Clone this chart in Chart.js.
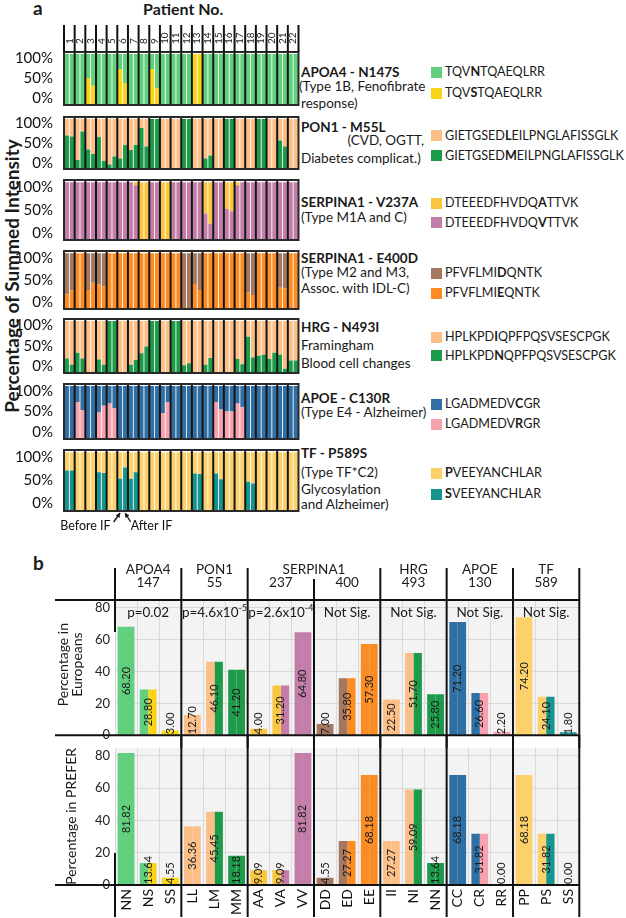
<!DOCTYPE html>
<html>
<head>
<meta charset="utf-8">
<script src="https://cdn.jsdelivr.net/npm/chart.js@4.4.1/dist/chart.umd.min.js"></script>
<style>
  body { margin: 0; width: 626px; height: 918px; position: relative; overflow: hidden; background: #fff; font-family: Lato, sans-serif; color: #1a1a1a; }
  canvas { position: absolute; left: 0; }
  .t { position: absolute; white-space: nowrap; font-size: 13.5px; line-height: 16px; }
  .b { font-weight: 700; }
  .sw { position: absolute; left: 431px; width: 11px; height: 11px; }
  .pep { position: absolute; left: 445px; white-space: nowrap; font-size: 12.6px; line-height: 16px; }
</style>
</head>
<body>
<div class="t b" style="left:33px;top:-3px;font-size:19px;line-height:22px">a</div>
<div class="t b" style="left:143px;top:1px;font-size:16px">Patient No.</div>
<div class="t b" style="left:-188px;top:264px;width:400px;text-align:center;font-size:19px;line-height:24px;transform:rotate(-90deg)">Percentage of Summed Intensity</div>
<div class="t b" style="left:33px;top:552px;font-size:19px;line-height:22px">b</div>

<div class="t b" style="left:301px;top:64px">APOA4 - N147S</div>
<div class="t" style="left:299px;top:78px">(Type 1B, Fenofibrate</div>
<div class="t" style="left:301px;top:95px">response)</div>
<div class="t b" style="left:301px;top:119px">PON1 - M55L</div>
<div class="t" style="right:202px;top:132px">(CVD, OGTT,</div>
<div class="t" style="left:301px;top:150px">Diabetes complicat.)</div>
<div class="t b" style="left:301px;top:194px">SERPINA1 - V237A</div>
<div class="t" style="left:301px;top:209px">(Type M1A and C)</div>
<div class="t b" style="left:301px;top:250px">SERPINA1 - E400D</div>
<div class="t" style="left:301px;top:264px">(Type M2 and M3,</div>
<div class="t" style="left:301px;top:280px">Assoc. with IDL-C)</div>
<div class="t b" style="left:301px;top:319px">HRG - N493I</div>
<div class="t" style="left:301px;top:337px">Framingham</div>
<div class="t" style="left:301px;top:355px">Blood cell changes</div>
<div class="t b" style="left:301px;top:390px">APOE - C130R</div>
<div class="t" style="left:301px;top:404px">(Type E4 - Alzheimer)</div>
<div class="t b" style="left:301px;top:445px">TF - P589S</div>
<div class="t" style="left:301px;top:464px">(Type TF*C2)</div>
<div class="t" style="left:301px;top:481px">Glycosylation</div>
<div class="t" style="left:301px;top:496px">and Alzheimer)</div>

<div class="sw" style="top:67px;background:#62cf7e"></div><div class="pep" style="top:64px">TQV<b>N</b>TQAEQLRR</div>
<div class="sw" style="top:88px;background:#fad416"></div><div class="pep" style="top:85px">TQV<b>S</b>TQAEQLRR</div>
<div class="sw" style="top:130px;background:#fdbf88"></div><div class="pep" style="top:128px">GIETGSED<b>L</b>EILPNGLAFISSGLK</div>
<div class="sw" style="top:150px;background:#1d9a4a"></div><div class="pep" style="top:148px">GIETGSED<b>M</b>EILPNGLAFISSGLK</div>
<div class="sw" style="top:198px;background:#f9c640"></div><div class="pep" style="top:195px">DTEEEDFHVDQ<b>A</b>TTVK</div>
<div class="sw" style="top:217px;background:#c27ea8"></div><div class="pep" style="top:215px">DTEEEDFHVDQ<b>V</b>TTVK</div>
<div class="sw" style="top:268px;background:#a47860"></div><div class="pep" style="top:265px">PFVFLMI<b>D</b>QNTK</div>
<div class="sw" style="top:288px;background:#fb8b23"></div><div class="pep" style="top:285px">PFVFLMI<b>E</b>QNTK</div>
<div class="sw" style="top:332px;background:#fdbf88"></div><div class="pep" style="top:329px">HPLKPD<b>I</b>QPFPQSVSESCPGK</div>
<div class="sw" style="top:350px;background:#1d9a4a"></div><div class="pep" style="top:348px">HPLKPD<b>N</b>QPFPQSVSESCPGK</div>
<div class="sw" style="top:399px;background:#2f6fa3"></div><div class="pep" style="top:396px">LGADMEDV<b>C</b>GR</div>
<div class="sw" style="top:419px;background:#f7a1ae"></div><div class="pep" style="top:416px">LGADMEDV<b>R</b>GR</div>
<div class="sw" style="top:468px;background:#fcd06a"></div><div class="pep" style="top:465px"><b>P</b>VEEYANCHLAR</div>
<div class="sw" style="top:489px;background:#15958e"></div><div class="pep" style="top:486px"><b>S</b>VEEYANCHLAR</div>

<script>
// ---------- panel a: share of each peptide form per patient (before IF, after IF), %
const patients = ['1','2','3','4','5','6','7','8','9','10','11','12','13','14','15','16','17','18','19','20','21','22'];

const apoa4S_before = [0,0,53,0,0,70,0,0,70,0,0,0,100,0,0,0,0,0,0,0,0,0];
const apoa4S_after  = [0,0,38,0,0,43,0,0,33,0,0,0,100,0,0,0,0,0,0,0,0,0];
const pon1M_before  = [67,18,39,64,9,21,38,82,100,0,0,100,0,21,0,100,0,0,100,0,57,0];
const pon1M_after   = [65,75,30,16,25,48,48,45,100,0,0,100,0,27,0,100,0,0,100,0,45,0];
const a1atV_before  = [100,100,100,100,100,100,100,0,100,0,100,100,100,46,100,54,95,100,100,100,100,100];
const a1atV_after   = [100,100,100,100,100,100,95,0,100,0,100,100,100,28,100,50,100,100,100,100,100,100];
const a1atE_before  = [26,100,34,44,100,100,100,100,100,100,100,0,45,100,100,100,100,29,100,100,38,100];
const a1atE_after   = [33,100,47,41,100,100,100,100,100,100,100,0,34,100,100,100,100,25,100,100,37,100];
const hrgN_before   = [28,39,0,26,100,0,16,38,100,0,100,15,0,16,0,0,27,70,33,27,35,24];
const hrgN_after    = [16,28,0,16,100,0,25,51,100,0,100,19,0,29,0,0,17,30,35,39,8,24];
const apoeR_before  = [0,70,0,50,67,0,0,0,0,49,0,0,0,0,70,52,67,0,0,0,0,0];
const apoeR_after   = [0,55,0,63,58,0,0,0,0,69,0,0,0,0,56,52,60,0,0,0,0,0];
const tfS_before    = [69,0,0,66,0,55,55,0,0,0,0,0,64,0,64,0,0,50,0,0,0,0];
const tfS_after     = [69,0,0,65,0,74,66,0,0,0,0,0,63,0,54,0,0,47,0,0,0,0];

// ---------- panel b: genotype frequencies, %
const genotypes = ['NN','NS','SS','LL','LM','MM','AA','VA','VV','DD','ED','EE','II','NI','NN','CC','CR','RR','PP','PS','SS'];
const pctEuropeans = [68.2,28.8,3.0,12.7,46.1,41.2,4.0,31.2,64.8,7.0,35.8,57.3,22.5,51.7,25.8,71.2,26.6,2.2,74.2,24.1,1.8];
const pctPrefer = [81.82,13.64,4.55,36.36,45.45,18.18,9.09,9.09,81.82,4.55,27.27,68.18,27.27,59.09,13.64,68.18,31.82,0,68.18,31.82,0];
const geneHeaders = [['APOA4',1],['PON1',1],['SERPINA1',2],['HRG',1],['APOE',1],['TF',1]];
const sitePositions = ['147','55','237','400','493','130','589'];
const pValues = [['p=0.02',''],['p=4.6x10','-5'],['p=2.6x10','-4'],['Not Sig.',''],['Not Sig.',''],['Not Sig.',''],['Not Sig.','']];

const C = {
  nLight: '#62cf7e', sYel: '#fad416', lOr: '#fdbf88', mGr: '#1d9a4a', aYel: '#f9c640', vPur: '#c27ea8',
  dBr: '#a47860', eOr: '#fb8b23', cBl: '#2f6fa3', rPk: '#f7a1ae', pYel: '#fcd06a', sTeal: '#15958e'
};
const leftColors  = [C.nLight,C.nLight,C.sYel, C.lOr,C.lOr,C.mGr, C.aYel,C.aYel,C.vPur, C.dBr,C.dBr,C.eOr, C.lOr,C.lOr,C.mGr, C.cBl,C.cBl,C.rPk, C.pYel,C.pYel,C.sTeal];
const rightColors = [C.nLight,C.sYel,C.sYel, C.lOr,C.mGr,C.mGr, C.aYel,C.vPur,C.vPur, C.dBr,C.eOr,C.eOr, C.lOr,C.mGr,C.mGr, C.cBl,C.rPk,C.rPk, C.pYel,C.sTeal,C.sTeal];

Chart.defaults.font.family = 'Lato, sans-serif';
Chart.defaults.color = '#1a1a1a';
Chart.defaults.animation = false;

function addCanvas(top, w, h) {
  const c = document.createElement('canvas');
  c.width = w; c.height = h;
  c.style.top = top + 'px';
  document.body.appendChild(c);
  return c;
}

function line(ctx, x1, y1, x2, y2) {
  ctx.beginPath(); ctx.moveTo(x1, y1); ctx.lineTo(x2, y2); ctx.stroke();
}

function arrow(ctx, x1, y1, x2, y2) {
  const ang = Math.atan2(y2 - y1, x2 - x1);
  line(ctx, x1, y1, x2, y2);
  ctx.beginPath();
  ctx.moveTo(x2, y2);
  ctx.lineTo(x2 - 5 * Math.cos(ang - 0.5), y2 - 5 * Math.sin(ang - 0.5));
  ctx.lineTo(x2 - 5 * Math.cos(ang + 0.5), y2 - 5 * Math.sin(ang + 0.5));
  ctx.closePath(); ctx.fill();
}

// black patient separators + frame
const stripFrame = {
  id: 'stripFrame',
  afterDatasetsDraw(chart) {
    const {ctx, chartArea: a, scales: {x}} = chart;
    ctx.save();
    ctx.strokeStyle = '#151515';
    ctx.lineWidth = 2;
    for (let i = 1; i < patients.length; i++) {
      const bx = (x.getPixelForValue(i - 1) + x.getPixelForValue(i)) / 2;
      line(ctx, bx, a.top, bx, a.bottom);
    }
    ctx.strokeStyle = '#2a2a2a';
    ctx.strokeRect(a.left, a.top, a.width, a.height);
    ctx.restore();
  }
};

const patientHeader = {
  id: 'patientHeader',
  afterDraw(chart) {
    const {ctx, chartArea: a, scales: {x}} = chart;
    const w = x.getPixelForValue(1) - x.getPixelForValue(0);
    ctx.save();
    ctx.strokeStyle = '#111';
    ctx.lineWidth = 2;
    for (let i = 0; i <= patients.length; i++) {
      const bx = x.getPixelForValue(0) - w / 2 + i * w;
      line(ctx, bx, 25, bx, a.top);
    }
    ctx.fillStyle = '#222';
    ctx.font = '10px Lato, sans-serif';
    ctx.textAlign = 'left';
    ctx.textBaseline = 'middle';
    patients.forEach((p, i) => {
      ctx.save();
      ctx.translate(x.getPixelForValue(i), 44);
      ctx.rotate(-Math.PI / 2);
      ctx.fillText(p, 0, 0);
      ctx.restore();
    });
    ctx.restore();
  }
};

const ifNote = {
  id: 'ifNote',
  afterDraw(chart) {
    const {ctx, chartArea: a, scales: {x}} = chart;
    const cx = x.getPixelForValue(5);
    ctx.save();
    ctx.strokeStyle = '#111'; ctx.fillStyle = '#111'; ctx.lineWidth = 1.3;
    arrow(ctx, cx - 9, a.bottom + 11, cx - 2.5, a.bottom + 2);
    arrow(ctx, cx + 8, a.bottom + 11, cx + 2.5, a.bottom + 2);
    ctx.font = '12.5px Lato, sans-serif';
    ctx.textBaseline = 'middle';
    ctx.textAlign = 'right';
    ctx.fillText('Before IF', cx - 12, a.bottom + 15);
    ctx.textAlign = 'left';
    ctx.fillText('After IF', cx + 8, a.bottom + 15);
    ctx.restore();
  }
};

const strips = [
  {low: apoa4S_before, lowAfter: apoa4S_after, cLow: C.sYel,  cHigh: C.nLight, box: [52, 109]},
  {low: pon1M_before,  lowAfter: pon1M_after,  cLow: C.mGr,   cHigh: C.lOr,    box: [113, 173]},
  {low: a1atV_before,  lowAfter: a1atV_after,  cLow: C.vPur,  cHigh: C.aYel,   box: [176, 244]},
  {low: a1atE_before,  lowAfter: a1atE_after,  cLow: C.eOr,   cHigh: C.dBr,    box: [247, 313]},
  {low: hrgN_before,   lowAfter: hrgN_after,   cLow: C.mGr,   cHigh: C.lOr,    box: [315, 377]},
  {low: apoeR_before,  lowAfter: apoeR_after,  cLow: C.rPk,   cHigh: C.cBl,    box: [380, 443]},
  {low: tfS_before,    lowAfter: tfS_after,    cLow: C.sTeal, cHigh: C.pYel,   box: [446, 511]}
];

strips.forEach((s, idx) => {
  const padTop = idx === 0 ? s.box[0] : 8;
  const padBottom = idx === strips.length - 1 ? 30 : 8;
  const h = s.box[1] - s.box[0] + padTop + padBottom;
  const extra = [stripFrame];
  if (idx === 0) extra.push(patientHeader);
  if (idx === strips.length - 1) extra.push(ifNote);
  new Chart(addCanvas(s.box[0] - padTop, 300, h), {
    type: 'bar',
    data: {
      labels: patients,
      datasets: [
        {data: s.low, backgroundColor: s.cLow, stack: 'before'},
        {data: s.low.map(v => 100 - v), backgroundColor: s.cHigh, stack: 'before'},
        {data: s.lowAfter, backgroundColor: s.cLow, stack: 'after'},
        {data: s.lowAfter.map(v => 100 - v), backgroundColor: s.cHigh, stack: 'after'}
      ]
    },
    options: {
      responsive: false,
      layout: {padding: {top: padTop, bottom: padBottom, left: 0, right: 1.5}},
      datasets: {bar: {barPercentage: 0.84, categoryPercentage: 1}},
      plugins: {legend: {display: false}, tooltip: {enabled: false}},
      scales: {
        x: {display: false, stacked: true},
        y: {display: false, stacked: true, min: 0, max: 104},
        yl: {
          type: 'linear', position: 'left', min: -16, max: 116,
          afterBuildTicks: sc => { sc.ticks = [0, 50, 100].map(v => ({value: v})); },
          afterFit: sc => { sc.width = 64; },
          ticks: {callback: v => v + '%', font: {size: 15}, color: '#111', padding: 3},
          grid: {display: false}, border: {display: false}
        }
      }
    },
    plugins: extra
  });
});

// ---------- panel b helpers
const genoBg = {
  id: 'genoBg',
  beforeDraw(chart) {
    const {ctx, chartArea: a} = chart;
    ctx.save(); ctx.fillStyle = '#f3f3f3';
    ctx.fillRect(a.left, a.top, a.width, a.height);
    ctx.restore();
  }
};

const valueLabels = {
  id: 'valueLabels',
  afterDatasetsDraw(chart) {
    const {ctx, scales: {x, y}} = chart;
    const vals = chart.data.datasets[0].data;
    ctx.save();
    ctx.font = '11px Lato, sans-serif';
    ctx.fillStyle = '#1a1a1a';
    ctx.textAlign = 'center';
    ctx.textBaseline = 'middle';
    vals.forEach((v, i) => {
      const t = v.toFixed(2);
      const tw = ctx.measureText(t).width;
      const base = y.getPixelForValue(0), top = y.getPixelForValue(v);
      const cy = base - top > tw + 6 ? (base + top) / 2 : base - tw / 2 - 1;
      ctx.save();
      ctx.translate(x.getPixelForValue(i), cy);
      ctx.rotate(-Math.PI / 2);
      ctx.fillText(t, 0, 0);
      ctx.restore();
    });
    ctx.restore();
  }
};

function colBounds(chart) {
  const {chartArea: a, scales: {x}} = chart;
  const w = x.getPixelForValue(1) - x.getPixelForValue(0);
  const out = [];
  for (let k = 0; k <= sitePositions.length; k++) out.push(a.left + 3 * k * w);
  return out;
}

function rotText(ctx, t, x, y) {
  ctx.save(); ctx.translate(x, y); ctx.rotate(-Math.PI / 2); ctx.fillText(t, 0, 0); ctx.restore();
}

const euroDecor = {
  id: 'euroDecor',
  afterDraw(chart) {
    const {ctx, chartArea: a} = chart;
    const H = chart.height;
    const b = colBounds(chart);
    ctx.save();
    ctx.strokeStyle = '#111'; ctx.lineWidth = 2;
    line(ctx, 55, a.top, a.right, a.top);
    line(ctx, 55, a.bottom, a.right, a.bottom);
    b.forEach((bx, k) => {
      if (k === 0) line(ctx, bx, 20, bx, a.top + 32);
      else if (k === 3) line(ctx, bx, 31, bx, H);
      else line(ctx, bx, 20, bx, H);
    });
    ctx.fillStyle = '#1a1a1a';
    ctx.textAlign = 'center'; ctx.textBaseline = 'middle';
    ctx.font = '13.5px Lato, sans-serif';
    let col = 0;
    geneHeaders.forEach(([g, span]) => {
      ctx.fillText(g, (b[col] + b[col + span]) / 2, 22);
      col += span;
    });
    sitePositions.forEach((p, k) => ctx.fillText(p, (b[k] + b[k + 1]) / 2, 35));
    pValues.forEach(([t, sup], k) => {
      const cx = (b[k] + b[k + 1]) / 2;
      ctx.font = '13.5px Lato, sans-serif';
      const w1 = ctx.measureText(t).width;
      ctx.font = '9px Lato, sans-serif';
      const w2 = sup ? ctx.measureText(sup).width : 0;
      const x0 = cx - (w1 + w2) / 2;
      ctx.textAlign = 'left';
      ctx.font = '13.5px Lato, sans-serif';
      ctx.fillText(t, x0, a.top + 13);
      if (sup) { ctx.font = '9px Lato, sans-serif'; ctx.fillText(sup, x0 + w1, a.top + 8); }
    });
    ctx.textAlign = 'center';
    ctx.font = '14px Lato, sans-serif';
    rotText(ctx, 'Percentage in', 63, (a.top + a.bottom) / 2 - 3);
    rotText(ctx, 'Europeans', 77, (a.top + a.bottom) / 2 - 3);
    ctx.restore();
  }
};

const preferDecor = {
  id: 'preferDecor',
  afterDraw(chart) {
    const {ctx, chartArea: a} = chart;
    const b = colBounds(chart);
    ctx.save();
    ctx.strokeStyle = '#111'; ctx.lineWidth = 2;
    line(ctx, 55, a.bottom, a.right, a.bottom);
    b.forEach((bx, k) => {
      if (k === 0) line(ctx, bx, a.bottom - 32, bx, chart.height - 1);
      else line(ctx, bx, 0, bx, chart.height - 1);
    });
    ctx.fillStyle = '#1a1a1a';
    ctx.textAlign = 'center'; ctx.textBaseline = 'middle';
    ctx.font = '14px Lato, sans-serif';
    rotText(ctx, 'Percentage in PREFER', 71, (a.top + a.bottom) / 2);
    ctx.restore();
  }
};

function genoChart(canvas, values, padTop, showLabels, decor) {
  return new Chart(canvas, {
    type: 'bar',
    data: {
      labels: genotypes,
      datasets: [
        {data: values, backgroundColor: leftColors},
        {data: values, backgroundColor: rightColors}
      ]
    },
    options: {
      responsive: false,
      layout: {padding: {top: padTop, bottom: showLabels ? 0 : 5.7, left: 0, right: 46.7}},
      datasets: {bar: {categoryPercentage: 0.76, barPercentage: 1}},
      plugins: {legend: {display: false}, tooltip: {enabled: false}},
      scales: {
        x: {
          grid: {color: '#d9d9d9', drawTicks: false}, border: {display: false},
          ticks: {display: showLabels, autoSkip: false, minRotation: 90, maxRotation: 90, font: {size: 14}, padding: 4, color: '#111'},
          afterFit: sc => { sc.height = showLabels ? 33 : 0; }
        },
        y: {
          min: 0, max: 85,
          afterBuildTicks: sc => { sc.ticks = [0, 20, 40, 60, 80].map(v => ({value: v})); },
          afterFit: sc => { sc.width = 115; },
          grid: {color: '#d9d9d9', drawTicks: false}, border: {display: false},
          ticks: {font: {size: 13}, padding: 5, color: '#222'}
        }
      }
    },
    plugins: [genoBg, valueLabels, decor]
  });
}

genoChart(addCanvas(548, 626, 200), pctEuropeans, 52, false, euroDecor);
genoChart(addCanvas(735, 626, 183), pctPrefer, 8, true, preferDecor);
</script>
</body>
</html>
